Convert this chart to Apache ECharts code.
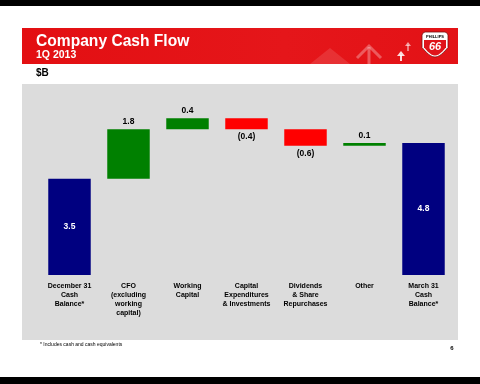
<!DOCTYPE html>
<html><head><meta charset="utf-8">
<script src="https://cdn.jsdelivr.net/npm/echarts@6/dist/echarts.min.js"></script>
<style>html,body{margin:0;padding:0;background:#fff}#c{width:480px;height:384px}</style>
</head><body><div id="c"></div>
<script>
const categories = ['December 31\nCash\nBalance*', 'CFO\n(excluding\nworking\ncapital)', 'Working\nCapital', 'Capital\nExpenditures\n& Investments', 'Dividends\n& Share\nRepurchases', 'Other', 'March 31\nCash\nBalance*'];
const values = [3.5, 1.8, 0.4, -0.4, -0.6, 0.1, 4.8];
const kinds = ['total', 'delta', 'delta', 'delta', 'delta', 'delta', 'total'];

const FONT = '"Liberation Sans", Arial, sans-serif';
const colors = {total: '#000080', up: '#008000', down: '#ff0000'};

const bases = [], heights = [];
let cum = 0;
values.forEach((v, i) => {
  if (kinds[i] === 'total') { bases.push(0); heights.push(v); cum = v; }
  else if (v >= 0) { bases.push(cum); heights.push(v); cum += v; }
  else { cum += v; bases.push(cum); heights.push(-v); }
});
const fmt = v => v < 0 ? '(' + Math.abs(v).toFixed(1) + ')' : v.toFixed(1);

const deltaData = heights.map((h, i) => {
  const v = values[i];
  const kind = kinds[i] === 'total' ? 'total' : (v >= 0 ? 'up' : 'down');
  let label;
  if (kind === 'total') label = {show: true, position: 'inside', color: '#fff'};
  else if (kind === 'up') label = {show: true, position: 'top', distance: 3, color: '#000'};
  else label = {show: true, position: 'bottom', distance: 3, color: '#000'};
  return {value: h, itemStyle: {color: colors[kind]}, label: Object.assign(label, {formatter: () => fmt(v)})};
});

function shieldCurve(x0, y0, w, h) {
  const pts = [];
  const mid = y0 + h * 0.62;
  pts.push([x0 + w, mid]);
  for (let k = 1; k <= 6; k++) {
    const t = k / 6;
    pts.push([x0 + w - (w / 2) * t, mid + (y0 + h - mid) * Math.sin(t * Math.PI / 2)]);
  }
  for (let k = 5; k >= 0; k--) {
    const t = k / 6;
    pts.push([x0 + (w / 2) * t, mid + (y0 + h - mid) * Math.sin(t * Math.PI / 2)]);
  }
  return pts;
}
function shield(x0, y0, w, h) {
  const r = 3;
  return [[x0, y0 + r], [x0 + 1, y0 + 1], [x0 + r, y0], [x0 + w - r, y0], [x0 + w - 1, y0 + 1], [x0 + w, y0 + r]].concat(shieldCurve(x0, y0, w, h));
}
function shieldLower(x0, y0, w, h, cutY) {
  return [[x0, cutY], [x0 + w, cutY]].concat(shieldCurve(x0, y0, w, h));
}

const chart = echarts.init(document.getElementById('c'), null, {renderer: 'canvas'});
chart.setOption({
  backgroundColor: '#fff',
  animation: false,
  textStyle: {fontFamily: FONT},
  grid: {left: 40, right: 27, top: 110, bottom: 109, containLabel: false},
  xAxis: {
    type: 'category', data: categories,
    axisLine: {show: false}, axisTick: {show: false},
    axisLabel: {interval: 0, margin: 7, fontSize: 7, fontWeight: 'bold', color: '#000', lineHeight: 9, fontFamily: FONT, verticalAlign: 'top'}
  },
  yAxis: {type: 'value', min: 0, max: 6, show: false, splitLine: {show: false}},
  graphic: [
    {type: 'rect', z: -10, shape: {x: 0, y: 0, width: 480, height: 6}, style: {fill: '#000'}},
    {type: 'rect', z: -10, shape: {x: 0, y: 377, width: 480, height: 7}, style: {fill: '#000'}},
    {type: 'rect', z: -10, shape: {x: 22, y: 84, width: 436, height: 256}, style: {fill: '#dcdcdc'}},
    {type: 'rect', z: -10, shape: {x: 22, y: 28, width: 436, height: 36}, style: {fill: new echarts.graphic.LinearGradient(0, 0, 1, 0, [{offset: 0, color: '#e30f12'}, {offset: 0.6, color: '#e5161a'}, {offset: 1, color: '#e31216'}])}},
    {type: 'polygon', z: -9, shape: {points: [[310, 64], [330, 48], [350, 64]]}, style: {fill: 'rgba(255,255,255,0.12)'}},
    {type: 'polyline', z: -9, shape: {points: [[357, 58], [369, 46], [381, 58]]}, style: {stroke: 'rgba(255,255,255,0.3)', lineWidth: 3, fill: null}},
    {type: 'line', z: -9, shape: {x1: 369, y1: 47, x2: 369, y2: 64}, style: {stroke: 'rgba(255,255,255,0.3)', lineWidth: 3}},
    {type: 'polygon', z: -9, shape: {points: [[397, 56], [401, 51], [405, 56]]}, style: {fill: 'rgba(255,255,255,0.85)'}},
    {type: 'line', z: -9, shape: {x1: 401, y1: 55, x2: 401, y2: 61}, style: {stroke: 'rgba(255,255,255,0.85)', lineWidth: 2}},
    {type: 'polygon', z: -9, shape: {points: [[405, 46], [408, 42], [411, 46]]}, style: {fill: 'rgba(255,255,255,0.6)'}},
    {type: 'line', z: -9, shape: {x1: 408, y1: 45, x2: 408, y2: 51}, style: {stroke: 'rgba(255,255,255,0.6)', lineWidth: 1.5}},
    {type: 'polygon', z: -8, shape: {points: shield(422, 32, 26, 25)}, style: {fill: '#ffffff', stroke: '#7a1010', lineWidth: 0.8}},
    {type: 'polygon', z: -8, shape: {points: shieldLower(424, 34, 22, 21.5, 40)}, style: {fill: '#e0141a'}},
    {type: 'text', z: -7, style: {x: 435, y: 36.5, text: 'PHILLIPS', fontSize: 4, fontWeight: 'bold', fill: '#000', align: 'center', verticalAlign: 'middle', fontFamily: FONT}},
    {type: 'text', z: -7, style: {x: 435, y: 47, text: '66', fontSize: 11, fontWeight: 'bold', fontStyle: 'italic', fill: '#fff', align: 'center', verticalAlign: 'middle', fontFamily: FONT}},
    {type: 'text', style: {x: 36, y: 41.5, text: 'Company Cash Flow', fontSize: 15.6, fontWeight: 'bold', fill: '#fff', verticalAlign: 'middle', fontFamily: FONT}},
    {type: 'text', style: {x: 36, y: 55, text: '1Q 2013', fontSize: 10.5, fontWeight: 'bold', fill: '#fff', verticalAlign: 'middle', fontFamily: FONT}},
    {type: 'text', style: {x: 36, y: 73.5, text: '$B', fontSize: 10, fontWeight: 'bold', fill: '#000', verticalAlign: 'middle', fontFamily: FONT}},
    {type: 'text', style: {x: 40, y: 345, text: '* Includes cash and cash equivalents', fontSize: 5, fill: '#000', verticalAlign: 'middle', fontFamily: FONT}},
    {type: 'text', style: {x: 452, y: 348, text: '6', fontSize: 6, fontWeight: 'bold', fill: '#000', align: 'center', verticalAlign: 'middle', fontFamily: FONT}}
  ],
  series: [
    {type: 'bar', stack: 'w', data: bases, barWidth: '72%', itemStyle: {color: 'transparent'}, silent: true},
    {type: 'bar', stack: 'w', data: deltaData, barWidth: '72%',
     label: {fontSize: 8.5, fontWeight: 'bold', fontFamily: FONT}}
  ]
});
</script></body></html>
